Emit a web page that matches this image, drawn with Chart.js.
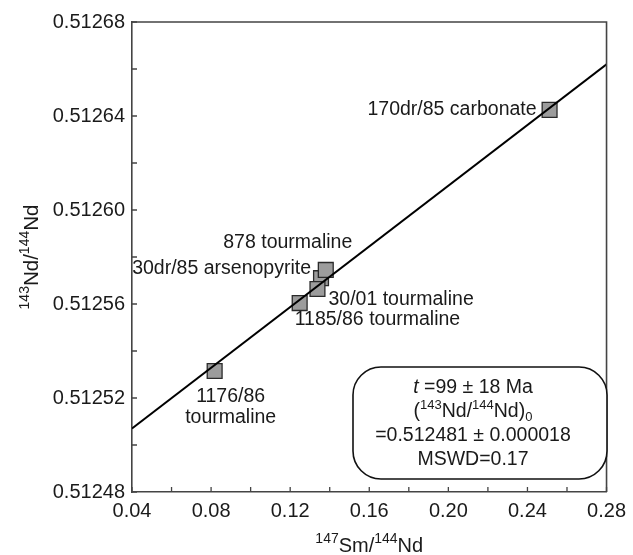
<!DOCTYPE html>
<html>
<head>
<meta charset="utf-8">
<script src="https://cdn.jsdelivr.net/npm/chart.js@4"></script>
<style>
  html, body { margin: 0; padding: 0; background: #fff; }
  #wrap { width: 633px; height: 555px; }
</style>
</head>
<body>
<div id="wrap"><canvas id="iso" width="633" height="555"></canvas></div>
<script>
// Sm-Nd isochron: sample points, fitted line, age box

const sampleNames = ['30dr/85 arsenopyrite', '878 tourmaline', '30/01 tourmaline', '1185/86 tourmaline', '1176/86 tourmaline', '170dr/85 carbonate'];
const smNd = [0.1356, 0.1380, 0.1338, 0.1248, 0.0818, 0.2512];
const ndNd = [0.512571, 0.5125745, 0.5125664, 0.5125604, 0.5125315, 0.5126426];

const isochronX = [0.04, 0.28];
const isochronY = [0.512507, 0.512662];

const xTicks = [0.04, 0.08, 0.12, 0.16, 0.20, 0.24, 0.28];
const xMinor = [0.06, 0.10, 0.14, 0.18, 0.22, 0.26];
const yTicks = [0.51248, 0.51252, 0.51256, 0.51260, 0.51264, 0.51268];
const yMinor = [0.51250, 0.51254, 0.51258, 0.51262, 0.51266];

const boxLines = ['t =99 \u00b1 18 Ma', '(143Nd/144Nd)0', '=0.512481 \u00b1 0.000018', 'MSWD=0.17'];

// where each sample label sits relative to its marker (pixels)
const labelPlace = [
  { dx: -10, dy: -10, align: 'right' },
  { dx: -38, dy: -27, align: 'center' },
  { dx: 11, dy: 11, align: 'left' },
  { dx: -5, dy: 17, align: 'left' },
  { dx: 16, dy: 26, align: 'center', lines: ['1176/86', 'tourmaline'] },
  { dx: -13, dy: 0, align: 'right' },
];

const FONT = '"Liberation Sans", Arial, Helvetica, sans-serif';
const TXT = '#1a1a1a';

// text with superscript / subscript parts: [{t, s:'sup'|'sub', i:italic}]
function richWidth(ctx, parts, size) {
  let w = 0;
  parts.forEach((p) => {
    const sz = p.s ? Math.round(size * 0.68) : size;
    ctx.font = (p.i ? 'italic ' : '') + sz + 'px ' + FONT;
    w += ctx.measureText(p.t).width;
  });
  return w;
}
function richText(ctx, parts, x, y, size, align) {
  const w = richWidth(ctx, parts, size);
  let cx = align === 'center' ? x - w / 2 : (align === 'right' ? x - w : x);
  ctx.textAlign = 'left';
  ctx.textBaseline = 'middle';
  parts.forEach((p) => {
    const sz = p.s ? Math.round(size * 0.68) : size;
    ctx.font = (p.i ? 'italic ' : '') + sz + 'px ' + FONT;
    let yy = y;
    if (p.s === 'sup') yy = y - size * 0.32;
    if (p.s === 'sub') yy = y + size * 0.28;
    ctx.fillText(p.t, cx, yy);
    cx += ctx.measureText(p.t).width;
  });
}

const decorPlugin = {
  id: 'decor',
  afterDatasetsDraw(chart) {
    const { ctx, chartArea: a, scales } = chart;
    const xs = scales.x, ys = scales.y;
    ctx.save();

    // frame on top and right
    ctx.strokeStyle = '#444';
    ctx.lineWidth = 1.6;
    ctx.beginPath();
    ctx.moveTo(a.left, a.top);
    ctx.lineTo(a.right, a.top);
    ctx.lineTo(a.right, a.bottom);
    ctx.stroke();

    // inward ticks
    ctx.lineWidth = 1.3;
    ctx.beginPath();
    xTicks.concat(xMinor).forEach((v) => {
      const px = xs.getPixelForValue(v);
      ctx.moveTo(px, a.bottom);
      ctx.lineTo(px, a.bottom - 5);
    });
    yTicks.concat(yMinor).forEach((v) => {
      const py = ys.getPixelForValue(v);
      ctx.moveTo(a.left, py);
      ctx.lineTo(a.left + 5, py);
    });
    ctx.stroke();

    // sample labels
    ctx.fillStyle = TXT;
    ctx.font = '19.5px ' + FONT;
    ctx.textBaseline = 'middle';
    sampleNames.forEach((name, i) => {
      const pl = labelPlace[i];
      const px = xs.getPixelForValue(smNd[i]) + pl.dx;
      const py = ys.getPixelForValue(ndNd[i]) + pl.dy;
      ctx.textAlign = pl.align;
      const lines = pl.lines || [name];
      lines.forEach((ln, k) => ctx.fillText(ln, px, py + k * 21));
    });

    // result box
    const bx = a.left + 221, by = a.top + 345, bw = 254, bh = 112, r = 28;
    ctx.strokeStyle = '#111';
    ctx.lineWidth = 1.6;
    ctx.fillStyle = '#fff';
    ctx.beginPath();
    ctx.roundRect(bx, by, bw, bh, r);
    ctx.fill();
    ctx.stroke();
    ctx.fillStyle = TXT;
    const cx = bx + 120;
    richText(ctx, [{ t: 't', i: true }, { t: boxLines[0].slice(1) }], cx, by + 21, 19.5, 'center');
    richText(ctx, [{ t: '(' }, { t: '143', s: 'sup' }, { t: 'Nd/' }, { t: '144', s: 'sup' }, { t: 'Nd)' }, { t: '0', s: 'sub' }], cx, by + 45, 19.5, 'center');
    ctx.font = '19.5px ' + FONT;
    ctx.textAlign = 'center';
    ctx.fillText(boxLines[2], cx, by + 69);
    ctx.fillText(boxLines[3], cx, by + 93);

    // axis titles
    richText(ctx, [{ t: '147', s: 'sup' }, { t: 'Sm/' }, { t: '144', s: 'sup' }, { t: 'Nd' }], (a.left + a.right) / 2, 546, 20, 'center');
    ctx.translate(32, (a.top + a.bottom) / 2);
    ctx.rotate(-Math.PI / 2);
    richText(ctx, [{ t: '143', s: 'sup' }, { t: 'Nd/' }, { t: '144', s: 'sup' }, { t: 'Nd' }], 0, 0, 20.5, 'center');

    ctx.restore();
  },
};

const ctx = document.getElementById('iso').getContext('2d');
new Chart(ctx, {
  type: 'scatter',
  data: {
    datasets: [
      {
        label: 'isochron',
        data: isochronX.map((x, i) => ({ x, y: isochronY[i] })),
        showLine: true,
        borderColor: '#000',
        borderWidth: 2,
        pointRadius: 0,
        fill: false,
      },
      {
        label: 'samples',
        data: smNd.map((x, i) => ({ x, y: ndNd[i] })),
        pointStyle: 'rect',
        pointRadius: 10.5,
        backgroundColor: '#9c9c9c',
        borderColor: '#2a2a2a',
        borderWidth: 1.3,
      },
    ],
  },
  options: {
    responsive: false,
    animation: false,
    events: [],
    layout: { padding: { left: 0, top: 22, right: 19, bottom: 0 } },
    plugins: { legend: { display: false }, tooltip: { enabled: false } },
    scales: {
      x: {
        type: 'linear',
        min: 0.04,
        max: 0.28,
        afterBuildTicks: (s) => { s.ticks = xTicks.map((v) => ({ value: v })); },
        afterFit: (s) => { s.height = 63; },
        grid: { display: false, drawTicks: false },
        border: { display: true, color: '#444', width: 1.6 },
        ticks: {
          color: TXT,
          padding: 7,
          maxRotation: 0,
          font: { family: FONT, size: 20 },
          callback: (v) => Number(v).toFixed(2),
        },
      },
      y: {
        type: 'linear',
        min: 0.51248,
        max: 0.51268,
        afterBuildTicks: (s) => { s.ticks = yTicks.map((v) => ({ value: v })); },
        afterFit: (s) => { s.width = 132; },
        grid: { display: false, drawTicks: false },
        border: { display: true, color: '#444', width: 1.6 },
        ticks: {
          color: TXT,
          padding: 7,
          font: { family: FONT, size: 20 },
          callback: (v) => Number(v).toFixed(5),
        },
      },
    },
  },
  plugins: [decorPlugin],
});
</script>
</body>
</html>
